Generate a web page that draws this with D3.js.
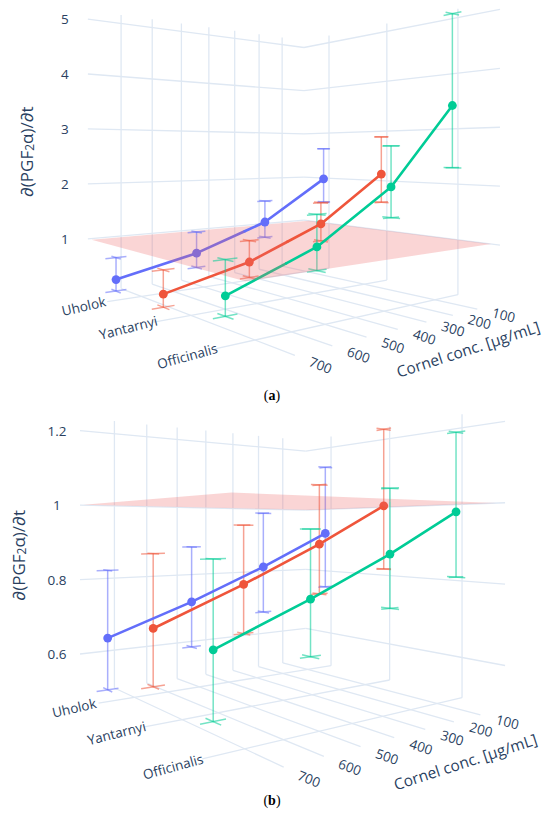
<!DOCTYPE html>
<html>
<head>
<meta charset="utf-8">
<script src="https://cdn.jsdelivr.net/npm/d3@7"></script>
<style>
  body { margin: 0; background: #ffffff; }
  svg { display: block; }
  text { font-family: "Open Sans", "DejaVu Sans", sans-serif; fill: #2a3f5f; }
</style>
</head>
<body>
<svg id="chart" width="550" height="813"></svg>
<script>
// ----------- DATA ------------
const cultivars = ["Uholok", "Yantarnyi", "Officinalis"];
const concentrations = [25, 275, 525, 775];
const concTicks = [100, 200, 300, 400, 500, 600, 700];
const concRange = [0, 800];
const threshold = 1;
const seriesColors = ["#636efa", "#ef553b", "#00cc96"];

// panel (a)
const aZTicks = [1, 2, 3, 4, 5];
const aUholok = [1.99, 1.15, 0.67, 0.37];
const aUholokPlus = [0.66, 0.43, 0.40, 0.38];
const aUholokMinus = [0.51, 0.31, 0.27, 0.20];
const aYantarnyi = [2.14, 1.26, 0.73, 0.41];
const aYantarnyiPlus = [0.74, 0.39, 0.36, 0.37];
const aYantarnyiMinus = [0.56, 0.31, 0.26, 0.20];
const aOfficinalis = [3.41, 2.01, 1.18, 0.68];
const aOfficinalisPlus = [1.64, 0.67, 0.48, 0.48];
const aOfficinalisMinus = [1.11, 0.50, 0.35, 0.27];

// panel (b)
const bZTicks = [0.6, 0.8, 1, 1.2];
const bUholok = [0.922, 0.823, 0.734, 0.657];
const bUholokPlus = [0.212, 0.160, 0.152, 0.173];
const bUholokMinus = [0.171, 0.135, 0.125, 0.132];
const bYantarnyi = [1.003, 0.895, 0.799, 0.712];
const bYantarnyiPlus = [0.222, 0.159, 0.146, 0.168];
const bYantarnyiMinus = [0.183, 0.133, 0.121, 0.131];
const bOfficinalis = [0.980, 0.876, 0.784, 0.701];
const bOfficinalisPlus = [0.206, 0.156, 0.151, 0.176];
const bOfficinalisMinus = [0.169, 0.129, 0.124, 0.139];

// ----------- LAYOUT ------------
const GRID_COLOR = "#dfe8f3";
const panels = [
    {
        name: "a", zRange: [0.01, 5.16], zTicks: aZTicks, eyeZ: 2.58, aspZ: 1,
        camera: { az: 51.3, R: 4.44, F: 650, cx: 286.7, cy: 152 },
        values: [aUholok, aYantarnyi, aOfficinalis],
        plus: [aUholokPlus, aYantarnyiPlus, aOfficinalisPlus],
        minus: [aUholokMinus, aYantarnyiMinus, aOfficinalisMinus],
        labelY: 395, zLabelDx: -23
    },
    {
        name: "b", zRange: [0.495, 1.235], zTicks: bZTicks, eyeZ: 0.933, aspZ: 0.95,
        camera: { az: 53, R: 4.44, F: 672.5, cx: 283.1, cy: 530 },
        values: [bUholok, bYantarnyi, bOfficinalis],
        plus: [bUholokPlus, bYantarnyiPlus, bOfficinalisPlus],
        minus: [bUholokMinus, bYantarnyiMinus, bOfficinalisMinus],
        labelY: 800, zLabelDx: -23
    }
];

const svg = d3.select("#chart");

// perspective camera looking horizontally at the cube, eye raised by eyeW
const makeProjection = (cam) => {
    const a = cam.az * Math.PI / 180, ca = Math.cos(a), sa = Math.sin(a);
    return ([u, v, w]) => {
        const zc = cam.R - u * ca - v * sa;
        const xc = -u * sa + v * ca;
        return [cam.cx + cam.F * xc / zc, cam.cy - cam.F * (w - cam.eyeW) / zc];
    };
};

const lerp3 = (A, B, t) => A.map((d, i) => d + (B[i] - d) * t);

const drawPanel = (p) => {
    const g = svg.append("g");
    const uScale = d3.scaleLinear().domain(concRange).range([-1, 1]);
    const vScale = d3.scaleLinear().domain([-0.5, cultivars.length - 0.5]).range([-1, 1]);
    const wScale = d3.scaleLinear().domain(p.zRange).range([-p.aspZ, p.aspZ]);
    const cam = Object.assign({}, p.camera, { eyeW: wScale(p.eyeZ) });
    const proj = makeProjection(cam);
    const floorW = -p.aspZ, topW = p.aspZ;
    const line = d3.line();
    const seg = (A, B) => line([proj(A), proj(B)]);

    // ----- walls and floor grid -----
    const grid = g.append("g").attr("stroke", GRID_COLOR).attr("stroke-width", 1.3).attr("fill", "none");
    const addGrid = (A, B) => grid.append("path").attr("d", seg(A, B));
    concTicks.forEach(c => {
        addGrid([uScale(c), -1, floorW], [uScale(c), 1, floorW]);
        addGrid([uScale(c), -1, floorW], [uScale(c), -1, topW]);
    });
    cultivars.forEach((k, i) => {
        addGrid([-1, vScale(i), floorW], [1, vScale(i), floorW]);
        addGrid([-1, vScale(i), floorW], [-1, vScale(i), topW]);
    });
    p.zTicks.forEach(z => {
        addGrid([1, -1, wScale(z)], [-1, -1, wScale(z)]);
        addGrid([-1, -1, wScale(z)], [-1, 1, wScale(z)]);
    });

    // ----- split traces around the threshold plane -----
    const pw = wScale(threshold);
    const behind = (w) => (w - pw) * (cam.eyeW - pw) < 0;
    const layers = { back: { err: [], lines: [], marks: [] }, front: { err: [], lines: [], marks: [] } };
    const pushSeg = (kind, A, B, color) => {
        if ((A[2] - pw) * (B[2] - pw) < 0) {
            const M = lerp3(A, B, (pw - A[2]) / (B[2] - A[2]));
            pushSeg(kind, A, M, color);
            pushSeg(kind, M, B, color);
            return;
        }
        const side = behind((A[2] + B[2]) / 2) ? "back" : "front";
        layers[side][kind].push({ A, B, color });
    };

    const cap = 0.075;
    p.values.forEach((vals, s) => {
        const color = seriesColors[s];
        const pts = vals.map((val, i) => [uScale(concentrations[i]), vScale(s), wScale(val)]);
        pts.forEach((P, i) => {
            const lo = [P[0], P[1], wScale(vals[i] - p.minus[s][i])];
            const hi = [P[0], P[1], wScale(vals[i] + p.plus[s][i])];
            pushSeg("err", lo, hi, color);
            [lo, hi].forEach(E => {
                pushSeg("err", [E[0] - cap, E[1], E[2]], [E[0] + cap, E[1], E[2]], color);
                pushSeg("err", [E[0], E[1] - cap, E[2]], [E[0], E[1] + cap, E[2]], color);
            });
            if (i > 0) pushSeg("lines", pts[i - 1], P, color);
            layers[behind(P[2]) ? "back" : "front"].marks.push({ P, color });
        });
    });

    const drawLayer = (layer) => {
        const lg = g.append("g");
        lg.append("g").selectAll("path").data(layer.err).join("path")
            .attr("d", d => seg(d.A, d.B))
            .attr("stroke", d => d.color).attr("stroke-opacity", 0.55)
            .attr("stroke-width", 1.5).attr("fill", "none");
        lg.append("g").selectAll("path").data(layer.lines).join("path")
            .attr("d", d => seg(d.A, d.B))
            .attr("stroke", d => d.color).attr("stroke-width", 2.6)
            .attr("stroke-linecap", "round").attr("fill", "none");
        lg.append("g").selectAll("circle").data(layer.marks).join("circle")
            .attr("cx", d => proj(d.P)[0]).attr("cy", d => proj(d.P)[1])
            .attr("r", 4.4).attr("fill", d => d.color);
    };

    drawLayer(layers.back);

    // threshold plane
    const planeCorners = [
        [uScale(concRange[0]), vScale(-0.4), pw],
        [uScale(concRange[1]), vScale(-0.4), pw],
        [uScale(concRange[1]), vScale(cultivars.length - 0.6), pw],
        [uScale(concRange[0]), vScale(cultivars.length - 0.6), pw]
    ];
    g.append("path")
        .attr("d", "M" + planeCorners.map(proj).map(d => d.join(",")).join("L") + "Z")
        .attr("fill", "rgb(236,100,100)").attr("fill-opacity", 0.27);

    drawLayer(layers.front);

    // ----- texts -----
    const zFmt = d3.format("~g");
    p.zTicks.forEach(z => {
        const pt = proj([1, -1, wScale(z)]);
        g.append("text").attr("x", pt[0] + p.zLabelDx).attr("y", pt[1])
            .attr("text-anchor", "middle").attr("dominant-baseline", "central")
            .attr("font-size", 13.5).text(zFmt(z));
    });

    const cultAngle = d3.scaleLinear().domain([0, cultivars.length - 1]).range([-13, -15.5]);
    cultivars.forEach((k, i) => {
        const pt = proj([1.16, vScale(i), floorW]);
        g.append("text").attr("text-anchor", "middle").attr("dominant-baseline", "central")
            .attr("font-size", 13.5)
            .attr("transform", `translate(${pt[0]},${pt[1] + 1}) rotate(${cultAngle(i)})`)
            .text(k);
    });

    const concAngle = d3.scaleLinear().domain([100, 700]).range([14, 22]);
    concTicks.forEach(c => {
        const pt = proj([uScale(c), 1.19, floorW]);
        g.append("text").attr("text-anchor", "middle").attr("dominant-baseline", "central")
            .attr("font-size", 13.5)
            .attr("transform", `translate(${pt[0]},${pt[1]}) rotate(${concAngle(c)})`)
            .text(c);
    });

    const tp = proj([0, 1.47, floorW]);
    g.append("text").attr("text-anchor", "middle").attr("dominant-baseline", "central")
        .attr("font-size", 15.5)
        .attr("transform", `translate(${tp[0]},${tp[1]}) rotate(-18)`)
        .text("Cornel conc. [μg/mL]");

    const zp = proj([1, -1, 0]);
    const zt = g.append("text").attr("text-anchor", "middle").attr("dominant-baseline", "central")
        .attr("font-size", 17)
        .attr("transform", `translate(${zp[0] - 62},${zp[1]}) rotate(-90)`);
    zt.append("tspan").text("∂(PGF");
    zt.append("tspan").attr("font-size", 12).attr("dy", 3).text("2");
    zt.append("tspan").attr("dy", -3).text("α)/∂t");

    // panel letter
    const lab = g.append("text").attr("x", 272).attr("y", p.labelY)
        .attr("text-anchor", "middle").attr("dominant-baseline", "central")
        .style("font-family", "'Liberation Serif', 'Times New Roman', serif")
        .style("fill", "#000").attr("font-size", 14);
    lab.append("tspan").text("(");
    lab.append("tspan").attr("font-weight", "bold").text(p.name);
    lab.append("tspan").text(")");
};

panels.forEach(drawPanel);
</script>
</body>
</html>
